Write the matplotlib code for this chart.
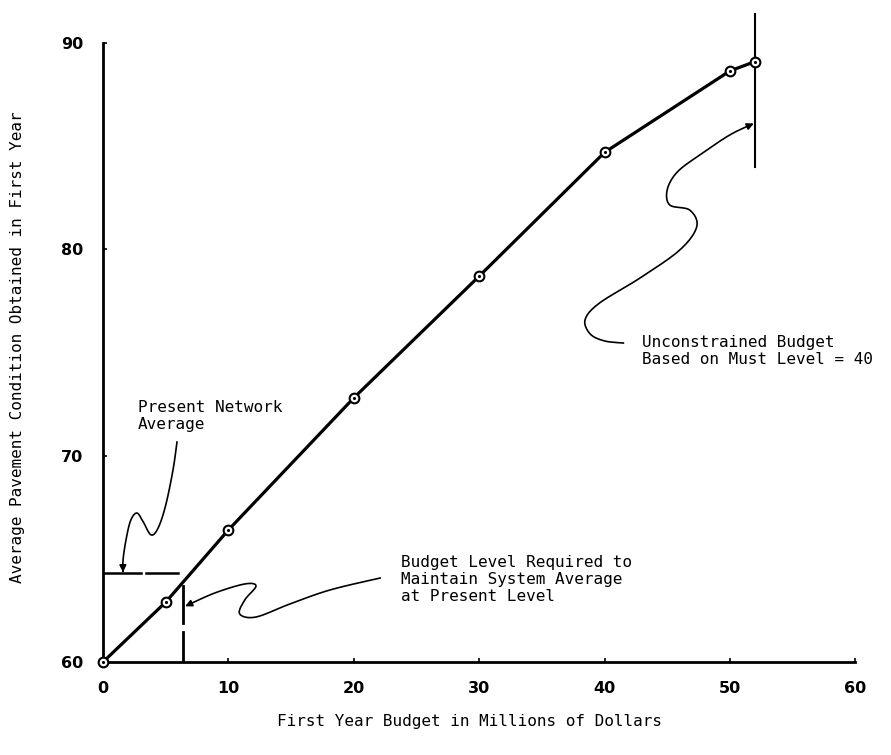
import numpy as np
import matplotlib
matplotlib.use("Agg")
import matplotlib.pyplot as plt

# budget (millions $) vs. average pavement condition
budget = [0, 5, 10, 20, 30, 40, 50, 52]
condition = [60.0, 62.9, 66.4, 72.8, 78.7, 84.7, 88.65, 89.1]

x_ticks = [0, 10, 20, 30, 40, 50, 60]
y_ticks = [60, 70, 80, 90]

present_avg = 64.3      # present network average condition
budget_req = 6.4        # budget to keep the present average
unconstrained = 52      # unconstrained budget

# leader line anchor points (data coords)
lead_uncon = [(41.5, 75.46), (40.0, 75.56), (38.85, 75.9), (38.45, 76.6), (39.6, 77.4),
              (42.8, 78.6), (46.0, 79.97), (47.35, 81.1), (46.8, 81.9), (45.2, 82.15),
              (45.0, 82.9), (45.8, 83.75), (47.6, 84.58), (50.0, 85.55), (51.9, 86.1)]
lead_present = [(5.9, 70.66), (5.58, 69.3), (5.0, 67.6), (4.4, 66.5), (3.83, 66.16),
                (3.2, 66.8), (2.7, 67.22), (2.2, 66.85), (1.83, 65.9), (1.6, 64.95),
                (1.6, 64.35)]
lead_budget = [(22.1, 64.07), (18.1, 63.49), (14.9, 62.81), (12.2, 62.18), (10.9, 62.33),
               (11.3, 63.0), (12.2, 63.68), (11.3, 63.78), (8.9, 63.34), (6.55, 62.7)]


def smooth(pts, n=12):
    # catmull-rom through the leader anchors, just to draw nice curly lines
    p = np.array(pts, dtype=float)
    p = np.vstack([p[0], p, p[-1]])
    out = []
    for i in range(1, len(p) - 2):
        p0, p1, p2, p3 = p[i - 1], p[i], p[i + 1], p[i + 2]
        for t in np.linspace(0, 1, n, endpoint=False):
            t2, t3 = t * t, t * t * t
            out.append(0.5 * ((2 * p1) + (-p0 + p2) * t + (2 * p0 - 5 * p1 + 4 * p2 - p3) * t2
                              + (-p0 + 3 * p1 - 3 * p2 + p3) * t3))
    out.append(p[-2])
    return np.array(out)


def leader(ax, pts):
    s = smooth(pts)
    ax.plot(s[:-2, 0], s[:-2, 1], color="black", lw=1.2, clip_on=False)
    ax.annotate("", xy=s[-1], xytext=s[-3],
                arrowprops=dict(arrowstyle="-|>", color="black", lw=1.2,
                                mutation_scale=10, shrinkA=0, shrinkB=0))


mono = "DejaVu Sans Mono"

fig = plt.figure(figsize=(8.91, 7.55), dpi=100)
ax = fig.add_axes([0.1156, 0.1232, 0.8444, 0.8198])

ax.plot(budget, condition, color="black", lw=2.3, zorder=3)
ax.plot(budget, condition, "o", ms=7, mfc="white", mec="black", mew=1.5, zorder=4, clip_on=False)
ax.plot(budget, condition, ".", ms=2.5, color="black", zorder=5, clip_on=False)

# present average: horizontal line with arrow, vertical line at required budget
ax.plot([0, 3.0], [present_avg, present_avg], color="black", lw=1.8)
ax.plot([3.4, 6.0], [present_avg, present_avg], color="black", lw=1.8)
ax.plot([budget_req, budget_req], [60, 61.45], color="black", lw=2.0)
ax.plot([budget_req, budget_req], [61.9, 63.7], color="black", lw=2.0)

# unconstrained budget marker line
ax.plot([unconstrained, unconstrained], [84.0, 91.4], color="black", lw=1.5, clip_on=False, zorder=2)

leader(ax, lead_uncon)
leader(ax, lead_present)
leader(ax, lead_budget)

ax.text(43.0, 75.85, "Unconstrained Budget\nBased on Must Level = 40",
        family=mono, fontsize=11.5, va="top", ha="left")
ax.text(2.8, 72.7, "Present Network\nAverage", family=mono, fontsize=11.5, va="top", ha="left")
ax.text(23.8, 65.2, "Budget Level Required to\nMaintain System Average\nat Present Level",
        family=mono, fontsize=11.5, va="top", ha="left")

ax.set_xlim(0, 60)
ax.set_ylim(60, 90)
ax.set_xticks(x_ticks)
ax.set_yticks(y_ticks)
ax.tick_params(direction="in", length=3, width=1.2, labelsize=11.5, pad=14)
for lab in ax.get_xticklabels() + ax.get_yticklabels():
    lab.set_fontweight("bold")
for side in ["top", "right"]:
    ax.spines[side].set_visible(False)
for side in ["left", "bottom"]:
    ax.spines[side].set_linewidth(2.0)

fig.text(0.527, 0.045, "First Year Budget in Millions of Dollars", family=mono,
         fontsize=11.5, ha="center", va="center")
fig.text(0.02, 0.54, "Average Pavement Condition Obtained in First Year", family=mono,
         fontsize=11.5, ha="center", va="center", rotation=90)

fig.savefig("out.png", dpi=100)
